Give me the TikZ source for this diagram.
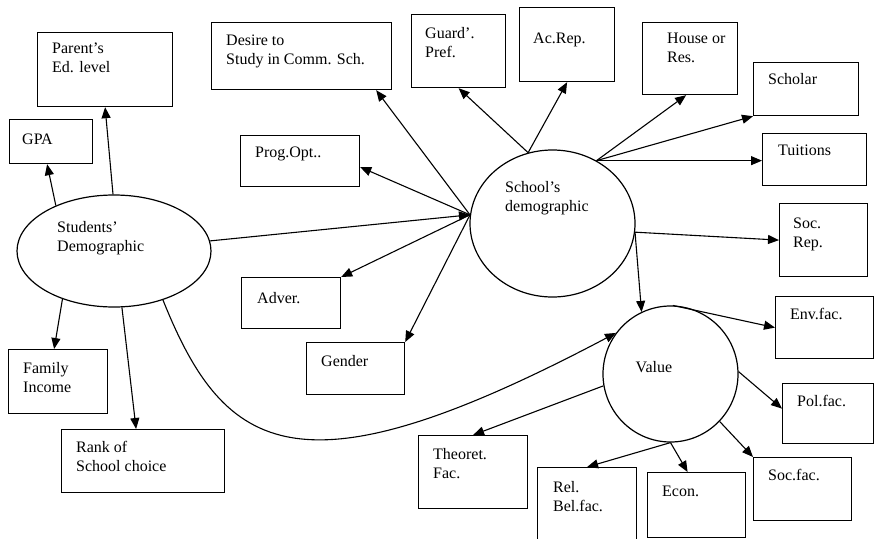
\documentclass[tikz,border=0pt]{standalone}
\usepackage{fontspec}
\setmainfont{Liberation Serif}
\usetikzlibrary{arrows.meta,shapes.geometric}

\tikzset{
    box/.style={draw, line width=1.2pt, anchor=north west, inner sep=0pt},
    blob/.style={draw, ellipse, line width=1.2pt, inner sep=0pt},
    txt/.style={anchor=north west, align=left, inner sep=0pt, font=\fontsize{16}{19}\selectfont},
    link/.style={line width=1.1pt, -{Triangle[length=11pt, width=9pt]}}
}

\begin{document}
\begin{tikzpicture}[x=1pt, y=-1pt]
            % the frame
            \useasboundingbox (0,0) rectangle (874,538);

            % the boxes
            \foreach \n/\x/\y/\w/\h/\dx/\dy/\lab in {
                parent/37/32/135/74/15/11/{Parent's\\Ed. level},
                gpa/9/119/83/44/13/14.5/{GPA},
                desire/211/22/180/67/15/13/{Desire to\\Study in Comm. Sch.},
                prog/240/135/119/51/15/12/{Prog.Opt..},
                guard/411/14/94/73/14/13/{Guard'.\\Pref.},
                acrep/519/7/95/74/14/26/{Ac.Rep.},
                house/642/22/95/72/25/11/{House or\\Res.},
                scholar/753/62/105/53/15/11/{Scholar},
                tuitions/762/133/104/52/16/12/{Tuitions},
                socrep/779/203/88/73/14/15/{Soc.\\Rep.},
                env/775/296/98/62/15/12/{Env.fac.},
                pol/782/383/91/60/15/12/{Pol.fac.},
                socfac/753/457/98/63/15/12/{Soc.fac.},
                econ/647/472/98/65/15/14/{Econ.},
                rel/537/467/99/75/16/14/{Rel.\\Bel.fac.},
                theoret/418/435/109/73/15/13/{Theoret.\\Fac.},
                adver/241/277/99/51/16/15/{Adver.},
                gender/306/342/98/52/15/13/{Gender},
                family/8/349/99/64/15/13/{Family\\Income},
                rank/61/429/163/63/15/12/{Rank of\\School choice}} {
                \node[box, minimum width=\w, minimum height=\h] (\n) at (\x,\y) {};
                \node[txt] (\n-txt) at ([shift={(\dx,\dy)}]\n.north west) {\lab};
            };

            % the ellipses
            \node[blob, minimum width=194, minimum height=112] (stud) at (114,251) {};
            \node[txt] (stud-txt) at ([shift={(-57,-29.5)}]stud.center) {Students'\\Demographic};
            \node[blob, minimum width=165, minimum height=147] (school) at (552.5,223.5) {};
            \node[txt] (school-txt) at ([shift={(-47.5,-42)}]school.center) {School's\\demographic};
            \node[blob, minimum width=135, minimum height=136] (value) at (670.5,374) {};
            \node[txt] (value-txt) at ([shift={(-35,-13)}]value.center) {Value};

            % arrows
            \draw[link] (stud.142) -- ([xshift=-4pt]gpa.south);
            \draw[link] (stud.91) -- (parent.south);
            \draw[link] (stud.-137) -- ([xshift=-4pt]family.north);
            \draw[link] (stud.-82) -- ([xshift=-7pt]rank.north);
            \draw[link] (stud.6) -- (school.174);
            \draw[link] (stud.-45) .. controls (225,455) and (300,500) .. (value.143);

            \draw[link] (school.174) -- ([xshift=-16pt]desire.south east);
            \draw[link] (school.174) -- ([yshift=-6pt]prog.east);
            \draw[link] (school.174) -- (adver.north east);
            \draw[link] (school.174) -- (gender.north east);
            \draw[link] (school.109) -- (guard.south);
            \draw[link] (school.109) -- (acrep.south);
            \draw[link] (school.55) -- ([xshift=-4pt]house.south);
            \draw[link] (school.55) -- (scholar.south west);
            \draw[link] (school.55) -- (school.55 -| tuitions.west);
            \draw[link] (school.-6) -- (socrep.west);
            \draw[link] (school.-6) -- (value.115);

            \draw[link] (value.88) -- (env.west);
            \draw[link] (value.2) -- ([yshift=5pt]pol.west);
            \draw[link] (value.-44) -- (socfac.north west);
            \draw[link] (value.-90) -- ([xshift=-9pt]econ.north);
            \draw[link] (value.-90) -- (rel.north);
            \draw[link] (value.190) -- (theoret.north);

\end{tikzpicture}
\end{document}
